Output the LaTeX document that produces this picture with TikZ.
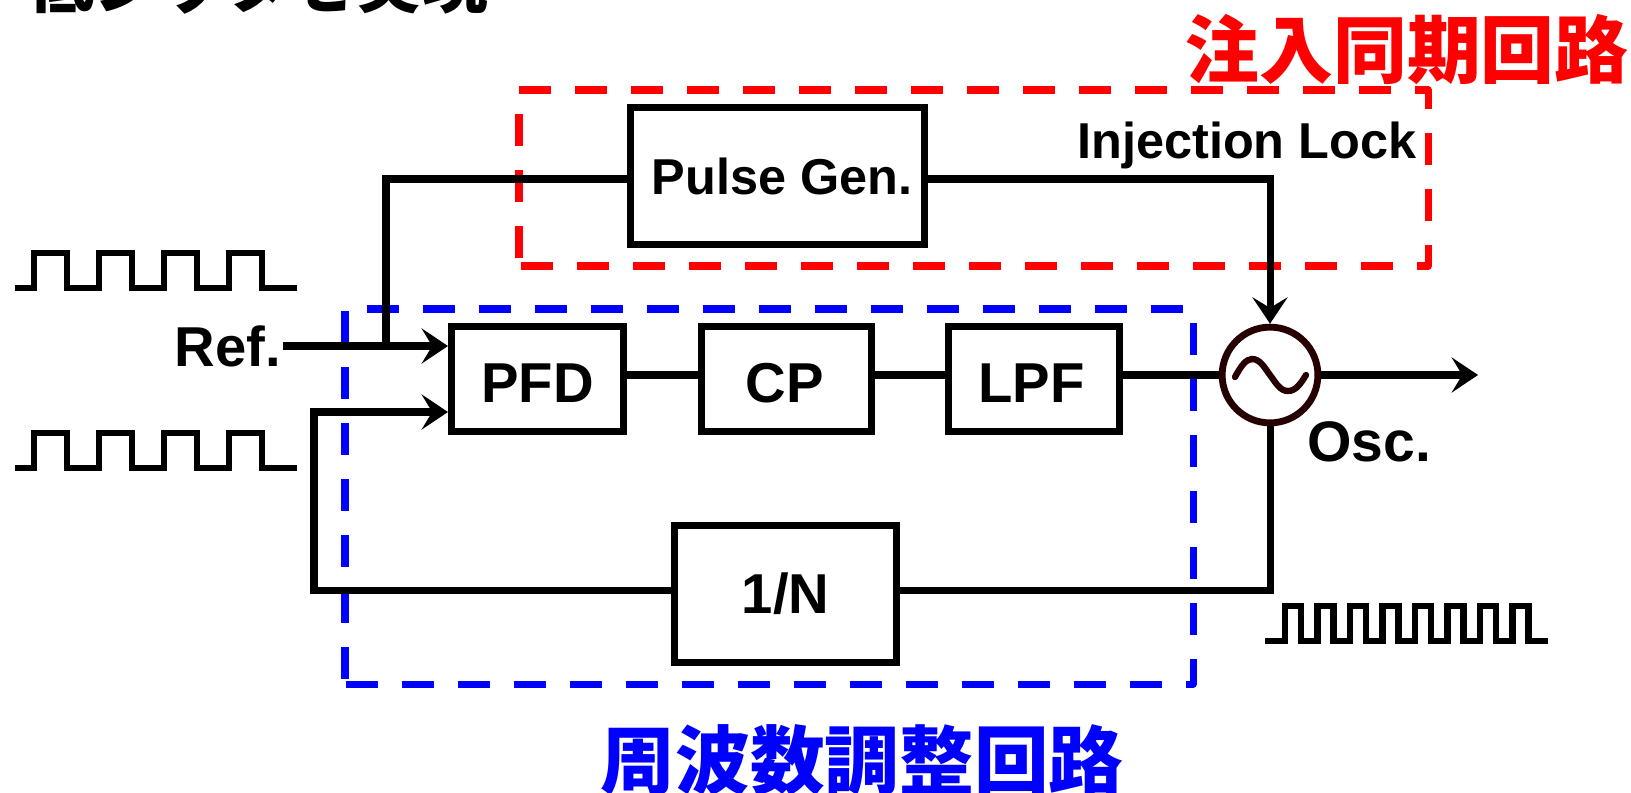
\documentclass[tikz,border=0pt]{standalone}
\usepackage{fontspec}
\setmainfont{Liberation Sans}
\newfontfamily\cjkfont{Noto Sans CJK JP}
\usetikzlibrary{arrows.meta}
\tikzset{
  block/.style={draw,line width=3.9pt,minimum height=#1,inner sep=0pt},
  block/.default=59.5pt,
  lowtext/.style={text height=26.8pt,text depth=0pt},
  sig/.style={line width=4pt},
  wave/.style={line width=3.8pt,line cap=rect},
  redbox/.style={draw=red,line width=4pt,line join=round,dash pattern=on 18.21pt off 13.66pt,dash phase=27.3pt},
  bluebox/.style={draw=blue,line width=4pt,line join=round,dash pattern=on 18.21pt off 13.66pt,dash phase=29pt},
  lbl/.style={font=\bfseries\fontsize{#1}{#1}\selectfont,inner sep=0pt},
  cjklbl/.style={font=\cjkfont\bfseries\fontsize{#1}{#1}\selectfont,inner sep=0pt}
}
\newcommand{\pulsetrain}[5]{% x of first rise, low y, pulse width, period, list of offsets
  \foreach \k in {#5} {\draw[wave] (#1+\k*#4,#2) -- (#1+\k*#4,#2-35) -- (#1+\k*#4+#3,#2-35) -- (#1+\k*#4+#3,#2) -- (#1+\k*#4+#4,#2);}
}
\begin{document}
\begin{tikzpicture}[x=0.02cm,y=-0.02cm,>={Stealth[length=15pt,width=20pt,inset=6pt]}]
\useasboundingbox (0,0) rectangle (1631,792);
\begin{scope}
\clip (0,0) rectangle (1631,792);
\node[cjklbl=37.4,anchor=base west] (headline) at (28,7) {低ジッタを実現};
\node[cjklbl=42.5,text=blue] (bluelbl) at (862,760) {周波数調整回路};
\end{scope}
% dashed frames
\draw[redbox] (519,266) -- (519,90) -- (1428,90) -- (1428,266) -- cycle;
\draw[bluebox] (345,684) -- (345,309) -- (1193,309) -- (1193,684) -- cycle;
% blocks
\node[block=78pt,minimum width=167pt,lbl=28.7] (pulsegen) at (777.5,176) {\kern5pt Pulse Gen.};
\node[block,lowtext,minimum width=98pt,lbl=32] (pfd) at (537.5,379) {PFD};
\node[block,lowtext,minimum width=97pt,lbl=32] (cp) at (786.5,379) {CP\kern2pt};
\node[block,lowtext,minimum width=97pt,lbl=32] (lpf) at (1034,379) {LPF\kern3pt};
\node[block=78pt,minimum width=126pt,lbl=32] (div) at (785.5,594) {1/N};
\node[circle,draw=black!85!red,line width=3.9pt,minimum size=54.5pt,inner sep=0pt] (osc) at (1270,375) {};
\draw[line width=3.6pt,line cap=round,black!85!red] (1235,377) .. controls (1241,366) and (1246,359) .. (1252,359) .. controls (1260,359) and (1264,367) .. (1270,375) .. controls (1276,383) and (1280,391) .. (1288,391) .. controls (1296,391) and (1301,383) .. (1306,375);
% labels
\node[lbl=32,anchor=base east] (reflbl) at (281,366) {Ref.};
\node[lbl=32.5,anchor=base west] (osclbl) at (1307,461) {Osc.};
\node[lbl=28.7,anchor=base west] (injlbl) at (1077,158) {Injection Lock};
\node[cjklbl=42,text=red] (redlbl) at (1407,49) {注入同期回路};
% connectors
\coordinate (refin) at (283,346);
\coordinate (fbin) at (314,412);
\coordinate (outend) at (1478,375);
\coordinate (pgline) at (0,179);
\coordinate (fbline) at (0,590);
\draw[sig,->] (refin) -- (pfd.west |- refin);
\draw[sig] (386,346) |- (pulsegen.west |- pgline);
\draw[sig,->] (pulsegen.east |- pgline) -| (osc.north);
\draw[sig] (pfd.east |- osc) -- (cp.west |- osc);
\draw[sig] (cp.east |- osc) -- (lpf.west |- osc);
\draw[sig] (lpf.east |- osc) -- (osc.west);
\draw[sig,->] (osc.east) -- (outend);
\draw[sig] (osc.south) |- (div.east |- fbline);
\draw[sig,->] (div.west |- fbline) -| (fbin) -- (pfd.west |- fbin);
% waveforms
\draw[wave] (18,288) -- (34,288);
\pulsetrain{34}{288}{33}{65}{0,1,2,3}
\draw[wave] (290,288) -- (294,288);
\draw[wave] (18,468) -- (34,468);
\pulsetrain{34}{468}{33}{65}{0,1,2,3}
\draw[wave] (290,468) -- (294,468);
\draw[wave] (1268,641) -- (1285,641);
\pulsetrain{1285}{641}{16}{32.5}{0,...,7}
\draw[wave] (1542,641) -- (1545,641);
\end{tikzpicture}
\end{document}
